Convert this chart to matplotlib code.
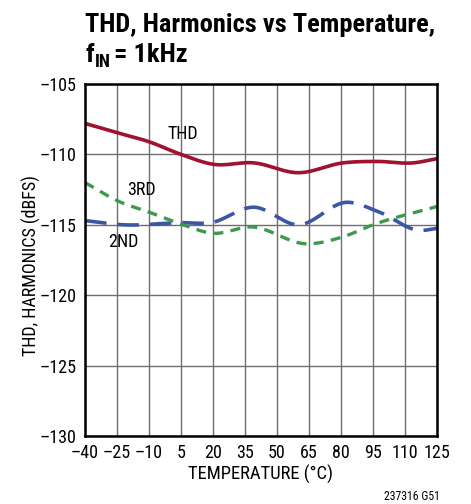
import matplotlib
matplotlib.use("Agg")
import matplotlib.pyplot as plt
import numpy as np

# temperature sweep (deg C) and measured distortion (dBFS)
thd_t = [-40, -24, -10, 5, 20, 39, 60, 81, 97, 114, 125]
thd = [-107.8, -108.5, -109.1, -110.0, -110.7, -110.6, -111.3, -110.6, -110.5, -110.6, -110.3]

h2_t = [-40, -22, 5, 19, 39, 60, 83, 98, 117, 125]
h2 = [-114.7, -115.0, -114.85, -114.85, -113.75, -115.0, -113.4, -114.1, -115.4, -115.25]

h3_t = [-40, -24, -10, 5, 20, 38, 64, 81, 95, 125]
h3 = [-112.0, -113.35, -114.1, -114.95, -115.6, -115.15, -116.35, -115.85, -115.0, -113.7]

xticks = [-40, -25, -10, 5, 20, 35, 50, 65, 80, 95, 110, 125]
yticks = [-130, -125, -120, -115, -110, -105]

plt.rcParams['font.family'] = ['Roboto Condensed', 'DejaVu Sans']


def smooth(x, y, n=300):
    # cubic hermite curve through the read points
    x = np.asarray(x, float)
    y = np.asarray(y, float)
    xs = np.linspace(x[0], x[-1], n)
    h = np.diff(x)
    d = np.diff(y) / h
    m = np.zeros_like(y)
    m[1:-1] = (d[:-1] * h[1:] + d[1:] * h[:-1]) / (h[:-1] + h[1:])
    m[0], m[-1] = d[0], d[-1]
    idx = np.clip(np.searchsorted(x, xs) - 1, 0, len(h) - 1)
    t = (xs - x[idx]) / h[idx]
    h00 = 2 * t**3 - 3 * t**2 + 1
    h10 = t**3 - 2 * t**2 + t
    h01 = -2 * t**3 + 3 * t**2
    h11 = t**3 - t**2
    ys = h00 * y[idx] + h10 * h[idx] * m[idx] + h01 * y[idx + 1] + h11 * h[idx] * m[idx + 1]
    return xs, ys


fig = plt.figure(figsize=(4.71, 5.04), dpi=100)
ax = fig.add_axes([85 / 471, 1 - 436 / 504, 352 / 471, 352 / 504])

ax.plot(*smooth(thd_t, thd), color='#a0122e', lw=2.6, solid_capstyle='butt')
ax.plot(*smooth(h2_t, h2), color='#3b56a6', lw=2.6, dashes=(6, 3))
ax.plot(*smooth(h3_t, h3), color='#3c9a4c', lw=2.4, dashes=(3, 2.2))

ax.text(6, -108.55, 'THD', fontsize=13, ha='center', va='center')
ax.text(-13.5, -112.5, '3RD', fontsize=13, ha='center', va='center')
ax.text(-22, -116.2, '2ND', fontsize=13, ha='center', va='center')

ax.set_xlim(-40, 125)
ax.set_ylim(-130, -105)
ax.set_xticks(xticks)
ax.set_yticks(yticks)
ax.set_xticklabels([str(v).replace('-', '\u2013') for v in xticks], fontsize=13)
ax.set_yticklabels([str(v).replace('-', '\u2013') for v in yticks], fontsize=13)
ax.tick_params(length=0, pad=6)
ax.grid(True, color='#6e6e6e', lw=1)
for s in ax.spines.values():
    s.set_linewidth(1.8)
ax.set_xlabel('TEMPERATURE (°C)', fontsize=13.4, labelpad=2)
ax.set_ylabel('THD, HARMONICS (dBFS)', fontsize=13, labelpad=0)
ax.yaxis.set_label_coords(-0.126, 0.485)

# two-line title, subscript built from separate pieces
x0 = 85 / 471
fig.text(x0, 1 - 32 / 504, 'THD, Harmonics vs Temperature,',
         fontsize=19, fontweight='bold', va='baseline', ha='left')
renderer = fig.canvas.get_renderer()
inv = fig.transFigure.inverted()
f_txt = fig.text(x0, 1 - 62 / 504, 'f', fontsize=19, fontweight='bold',
                 va='baseline', ha='left')
x1 = inv.transform(f_txt.get_window_extent(renderer))[1][0] + 1 / 471
sub = fig.text(x1, 1 - 67 / 504, 'IN', fontsize=13, fontweight='bold',
               va='baseline', ha='left')
x2 = inv.transform(sub.get_window_extent(renderer))[1][0] + 4 / 471
fig.text(x2, 1 - 62 / 504, '= 1kHz', fontsize=19, fontweight='bold',
         va='baseline', ha='left')

fig.text(440 / 471, 1 - 500 / 504, '237316 G51', fontsize=8.5, ha='right', va='baseline')

fig.savefig('out.png', dpi=100)
